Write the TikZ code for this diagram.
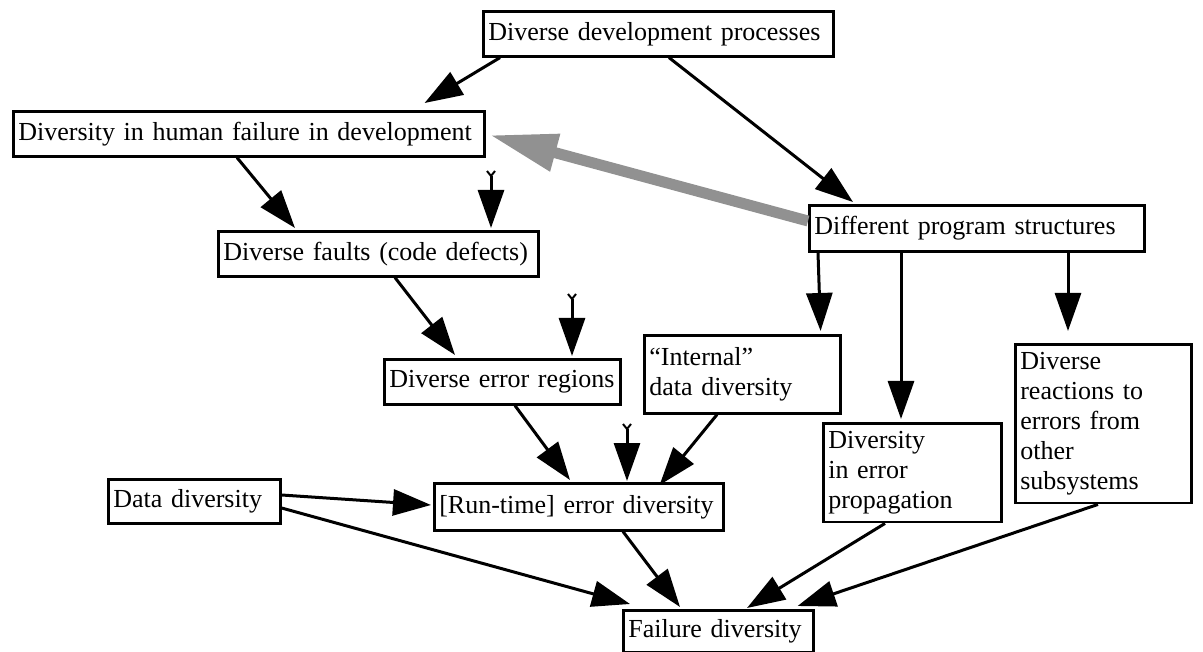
\documentclass[tikz,border=0pt]{standalone}
\usepackage{fontspec}
\setmainfont{Liberation Serif}
\usepackage{tikz}
\usetikzlibrary{arrows.meta,calc}
\definecolor{grayline}{RGB}{145,145,145}

\begin{document}
\begin{tikzpicture}[x=1pt,y=-1pt,
    box/.style={draw,line width=2.6pt,anchor=north west,align=left,
                inner xsep=5pt,inner ysep=8pt,
                font=\fontsize{26}{30}\selectfont},
    arr/.style={line width=3pt,-{Triangle[length=38pt,width=26pt]}},
    tailarr/.style={arr,{Straight Barb[reversed,length=5pt,width=8pt,line width=2pt]}-{Triangle[length=38pt,width=26pt]}},
    grayarr/.style={line width=11pt,draw=grayline,-{Triangle[length=68pt,width=36pt]}}]
  \useasboundingbox (0,0) rectangle (1203,652);

  \node[box,text width=340pt,minimum height=45pt] (dev) at (482,10) {\mbox{Diverse development processes}};
  \node[box,text width=461pt,minimum height=45pt] (human) at (12,110) {\mbox{Diversity in human failure in development}};
  \node[box,text width=325pt,minimum height=46pt] (structs) at (808,204) {\mbox{Different program structures}};
  \node[box,text width=310pt,minimum height=45pt] (faults) at (217,230) {\mbox{Diverse faults (code defects)}};
  \node[box,text width=226pt,minimum height=45pt] (regions) at (383,358) {\mbox{Diverse error regions}};
  \node[box,text width=186pt,minimum height=78pt] (internal) at (643,334) {“Internal”\\data diversity};
  \node[box,text width=168pt] (propag) at (822,422) {Diversity\\in error\\propagation};
  \node[box,text width=166pt] (react) at (1014,343) {Diverse\\reactions to\\errors from\\other\\subsystems};
  \node[box,text width=162pt,minimum height=44pt] (data) at (107,478) {\mbox{Data diversity}};
  \node[box,text width=279pt,minimum height=47pt] (runtime) at (433,482) {\mbox{[Run-time] error diversity}};
  \node[box,text width=180pt,minimum height=42pt] (failure) at (622,609) {\mbox{Failure diversity}};

  % free ends of the three outside influences
  \coordinate (in1) at (491,170);
  \coordinate (in2) at (572,293);
  \coordinate (in3) at (627,423);

  \draw[grayarr] ($(structs.north west)+(0,17)$) -- ($(human.north east)+(4,25)$);

  \path[arr]
    ($(dev.south west)+(18,0)$)      edge ($(human.north east)+(-61,-7)$)
    ($(dev.south west)+(187,0)$)     edge ($(structs.north west)+(45,-2)$)
    ($(human.south west)+(225,0)$)   edge ($(faults.north west)+(78,-2)$)
    ($(faults.south west)+(178,0)$)  edge ($(regions.north west)+(72,-3)$)
    ($(structs.south west)+(10,0)$)  edge ($(internal.north east)+(-21,-3)$)
    ($(structs.south west)+(93,0)$)  edge ($(propag.north west)+(79,-3)$)
    ($(structs.south west)+(260,0)$) edge ($(react.north west)+(54,-12)$)
    ($(regions.south west)+(132,0)$) edge ($(runtime.north west)+(137,-2)$)
    ($(internal.south west)+(74,0)$) edge ($(runtime.north east)+(-65,3)$)
    ($(data.north east)+(0,17)$)     edge ($(runtime.north west)+(-2,23)$)
    ($(data.north east)+(0,30)$)     edge ($(failure.north west)+(8,-5)$)
    ($(runtime.south west)+(190,0)$) edge ($(failure.north west)+(58,-2)$)
    ($(propag.south west)+(63,0)$)   edge ($(failure.north west)+(125,-1)$)
    ($(react.south west)+(84,0)$)    edge ($(failure.north east)+(-17,-3)$);

  \path[tailarr]
    (in1) edge ($(faults.north west)+(274,-2)$)
    (in2) edge ($(regions.north west)+(189,-2)$)
    (in3) edge ($(runtime.north west)+(194,-1)$);
\end{tikzpicture}
\end{document}
